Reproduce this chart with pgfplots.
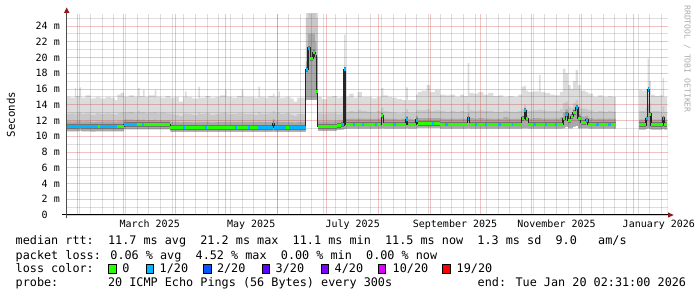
\documentclass[border=0pt]{standalone}
\usepackage{fontspec}
\setmainfont{DejaVu Sans Mono}
\newfontfamily\mono{DejaVu Sans Mono}
\usepackage{pgfplots}
\pgfplotsset{compat=1.18}
\usepackage{pgfplotstable}

\definecolor{smokeA}{HTML}{DCDCDC}
\definecolor{smokeB}{HTML}{C8C8C8}
\definecolor{smokeC}{HTML}{A8A8A8}
\definecolor{smokeD}{HTML}{727272}
\definecolor{gridred}{HTML}{C82828}
\definecolor{gridgray}{HTML}{000000}
\definecolor{arrowred}{HTML}{8E1B1B}
\definecolor{lossA}{HTML}{26FF00}
\definecolor{lossB}{HTML}{00B8FF}
\definecolor{lossC}{HTML}{0059FF}
\definecolor{lossD}{HTML}{5E00FF}
\definecolor{lossE}{HTML}{7E00FF}
\definecolor{lossF}{HTML}{DD00FF}
\definecolor{lossG}{HTML}{FF0000}

\newcommand\lgfont{\mono\fontsize{11.8bp}{14bp}\selectfont}
\newcommand\tkfont{\mono\fontsize{10bp}{12bp}\selectfont}

% d = days since 1 Jan 2025; top/mid/q/lo = smoke band edges (ms); med = median rtt (ms)
\pgfplotstableread{
d top mid q lo med
24.8 15.0 12.8 11.9 10.62 11.2
27.0 14.9 12.9 11.85 10.62 11.2
29.5 16.1 12.7 11.9 10.62 11.2
30.3 15.1 12.9 11.9 10.62 11.2
32.3 16.2 13.0 11.95 10.7 11.3
33.3 14.9 12.8 11.85 10.62 11.2
36.0 15.2 12.9 11.9 10.62 11.2
39.0 14.8 12.7 11.8 10.6 11.2
42.0 15.0 12.9 11.85 10.62 11.2
45.0 14.8 12.8 11.85 10.62 11.2
48.0 15.0 12.9 11.9 10.62 11.2
51.0 14.9 12.8 11.85 10.62 11.2
53.5 14.6 12.7 11.8 10.62 11.2
55.0 15.3 12.9 11.9 10.62 11.2
57.0 15.5 13.0 11.9 10.62 11.2
59.0 15.0 13.0 12.1 10.88 11.45
62.0 15.2 13.1 12.1 10.88 11.45
65.0 15.0 12.9 12.05 10.88 11.45
67.5 16.1 13.2 12.1 10.88 11.45
68.5 15.1 13.0 12.05 10.88 11.45
70.5 15.9 13.1 12.1 10.88 11.45
71.5 15.0 12.9 12.0 10.88 11.45
74.0 15.2 13.0 12.05 10.88 11.45
77.5 15.9 13.1 12.1 10.88 11.45
78.5 15.0 12.9 12.0 10.88 11.45
81.0 14.9 13.0 12.0 10.88 11.45
84.0 15.1 12.9 12.0 10.88 11.45
87.0 14.9 12.8 11.8 10.55 11.12
89.5 15.0 12.7 11.8 10.55 11.12
92.0 14.4 12.6 11.75 10.55 11.12
94.5 15.0 12.8 11.8 10.55 11.12
95.7 15.7 12.9 11.8 10.55 11.12
96.7 15.0 12.8 11.8 10.55 11.12
100.0 14.8 12.7 11.75 10.55 11.12
103.7 16.3 13.0 11.8 10.55 11.12
104.7 14.9 12.8 11.8 10.55 11.12
108.0 15.1 12.9 11.8 10.55 11.12
111.0 14.9 12.7 11.75 10.55 11.12
114.0 15.0 12.8 11.8 10.55 11.12
117.0 15.2 12.9 11.8 10.55 11.12
119.8 15.9 13.0 11.85 10.55 11.12
120.8 15.0 12.8 11.8 10.55 11.12
124.0 14.9 12.8 11.8 10.55 11.12
127.0 15.1 12.9 11.8 10.55 11.12
129.8 15.9 12.9 11.85 10.55 11.12
130.8 15.0 12.8 11.8 10.55 11.12
134.0 15.0 12.8 11.8 10.55 11.12
137.0 14.9 12.7 11.8 10.55 11.12
139.8 16.3 13.1 11.85 10.55 11.15
140.8 15.0 12.8 11.8 10.55 11.15
143.5 14.9 12.8 11.8 10.55 11.15
146.0 15.1 12.9 11.8 10.55 11.15
148.5 15.4 13.2 12.2 10.6 11.6
149.5 15.0 12.9 11.85 10.55 11.15
151.8 15.7 13.0 11.85 10.55 11.15
152.8 14.9 12.8 11.8 10.55 11.15
156.0 15.0 12.9 11.8 10.55 11.15
159.0 14.8 12.7 11.8 10.55 11.15
161.0 14.4 12.6 11.75 10.55 11.15
163.0 14.9 12.8 11.8 10.55 11.15
168.3 26 25 19.5 14.6 18.5
169.6 26 26 23 14.6 21.2
171.0 26 26 23 14.6 19.9
172.6 26 26 23 14.6 20.6
173.8 26 26 22 14.6 20.2
174.6 26 25 20 14.6 15.7
175.5 15.0 12.9 11.9 10.68 11.25
178.0 14.7 12.8 11.85 10.68 11.25
181.0 15.0 12.9 11.9 10.68 11.25
184.0 15.1 12.9 11.9 10.68 11.25
187.0 14.9 12.8 11.95 10.8 11.38
189.5 15.0 12.9 12.0 10.85 11.45
191.3 22.9 15.0 13.2 10.9 18.5
192.3 15.0 13.0 12.2 10.97 11.55
194.5 15.4 13.2 12.25 10.97 11.55
197.0 14.9 13.1 12.2 10.97 11.55
199.5 15.6 13.3 12.25 10.97 11.55
202.0 15.0 13.2 12.2 10.97 11.55
205.0 15.0 13.1 12.2 10.97 11.55
208.0 14.8 13.0 12.2 10.97 11.55
211.0 15.0 13.2 12.25 10.97 11.55
213.8 16.1 13.6 12.9 11.0 12.6
215.0 15.2 13.2 12.25 10.97 11.55
217.5 15.0 13.1 12.2 10.97 11.55
220.0 14.9 13.0 12.2 10.97 11.55
223.0 14.7 12.9 12.15 10.97 11.55
226.0 14.6 13.0 12.2 10.97 11.55
228.6 16.2 13.4 12.6 11.0 12.1
229.6 14.6 13.0 12.2 10.97 11.55
232.0 14.6 13.0 12.15 10.97 11.55
234.6 15.3 13.3 12.6 11.0 12.05
235.6 15.6 13.3 12.3 11.05 11.65
238.0 15.8 13.3 12.3 11.05 11.65
241.0 16.5 13.4 12.3 11.05 11.65
243.0 15.6 13.2 12.3 11.05 11.65
246.0 15.9 13.3 12.3 11.05 11.65
249.0 15.3 13.2 12.25 10.97 11.55
252.0 15.2 13.1 12.2 10.97 11.55
255.0 15.3 13.2 12.25 10.97 11.55
258.0 15.0 13.1 12.2 10.97 11.55
261.0 15.3 13.2 12.25 10.97 11.55
263.5 15.1 13.1 12.2 10.97 11.55
265.6 19.3 14.2 13.0 11.0 12.3
266.6 15.5 13.3 12.3 10.97 11.55
269.0 15.4 13.2 12.25 10.97 11.55
272.0 15.6 13.3 12.3 10.97 11.55
275.0 15.3 13.2 12.25 10.97 11.55
278.0 15.5 13.2 12.25 10.97 11.55
281.0 15.1 13.1 12.2 10.97 11.55
284.0 15.2 13.1 12.2 10.97 11.55
287.0 15.0 13.2 12.4 10.97 11.55
290.0 15.1 13.1 12.2 10.97 11.55
293.0 15.0 13.1 12.2 10.97 11.55
296.0 15.3 13.2 12.25 10.97 11.55
298.0 16.3 13.4 12.6 11.0 12.3
299.6 16.4 14.0 13.4 11.0 13.3
300.6 15.8 13.4 12.6 11.0 12.2
302.0 15.6 13.2 12.25 10.97 11.55
305.0 15.7 13.3 12.3 10.97 11.55
308.5 17.8 13.4 12.3 10.97 11.55
309.5 15.6 13.3 12.25 10.97 11.55
312.0 15.5 13.2 12.25 10.97 11.55
315.0 15.3 13.2 12.25 10.97 11.55
318.0 15.2 13.2 12.25 10.97 11.55
321.0 15.6 13.4 12.4 10.97 11.55
322.8 18.6 14.2 13.0 11.0 12.2
324.3 18.0 14.4 13.4 11.2 12.8
326.0 16.5 13.8 12.8 11.0 12.0
327.5 16.0 13.6 12.8 11.0 12.5
329.0 17.0 14.2 13.4 11.2 13.0
330.5 18.4 14.6 13.9 11.3 13.6
331.8 16.5 13.8 12.8 11.0 12.3
333.5 15.8 13.5 12.5 11.0 11.75
336.5 15.6 13.4 12.6 11.0 12.05
338.0 15.4 13.3 12.3 10.97 11.55
341.0 15.0 13.1 12.2 10.97 11.55
344.0 15.2 13.2 12.25 10.97 11.55
347.0 15.0 13.1 12.2 10.97 11.55
350.0 15.1 13.2 12.25 10.97 11.55
352.5 15.0 13.1 12.2 10.97 11.55
354.7 15.0 13.1 12.2 10.97 11.55
}\maintab

\pgfplotstableread{
d top mid q lo med
368.7 15.9 13.2 12.1 10.85 11.45
370.5 15.8 13.2 12.1 10.85 11.45
372.7 16.0 13.6 12.6 10.9 12.2
373.7 19.9 15.5 14.0 11.0 15.9
374.7 17.0 14.2 13.0 10.9 12.8
375.7 15.3 13.2 12.1 10.85 11.45
378.0 15.1 13.2 12.1 10.85 11.45
381.0 15.2 13.1 12.1 10.85 11.45
382.7 17.4 13.8 12.6 10.9 12.3
383.7 15.0 13.1 12.1 10.85 11.45
385.5 15.0 13.1 12.1 10.85 11.45
}\tailtab

\newcommand\smoke[1]{%
  \addplot[const plot, draw=none, fill=smokeA] table[x=d,y=top]{#1} \closedcycle;
  \addplot[const plot, draw=none, fill=smokeB] table[x=d,y=mid]{#1} \closedcycle;
  \addplot[const plot, draw=none, fill=smokeC] table[x=d,y=q]{#1} \closedcycle;
  \addplot[const plot, draw=none, fill=white] table[x=d,y=lo]{#1} \closedcycle;
}
\newcommand\median[1]{%
  \addplot[jump mark left, draw=smokeD, line width=4.8bp] table[x=d,y=med]{#1};
  \addplot[const plot, draw=black!85, line width=1.4bp] table[x=d,y=med]{#1};
  \addplot[jump mark left, draw=lossA, line width=3bp] table[x=d,y=med]{#1};
}
\pgfplotsset{frame/.style={
  at={(67bp,82bp)}, anchor=south west,
  scale only axis, width=601bp, height=201bp,
  xmin=24.8, xmax=386, ymin=0, ymax=25.524,
  unbounded coords=jump}}

\begin{document}
\begin{tikzpicture}
\path[use as bounding box] (0bp,0bp) rectangle (697bp,297bp);
\begin{axis}[
  frame,
  axis line style={draw=none},
  axis on top,
  xtick={74.5,135.5,196.5,258,319,380.5},
  xticklabels={March 2025,May 2025,July 2025,September 2025,November 2025,January 2026},
  xticklabel style={font=\tkfont, anchor=base, inner sep=0pt, yshift=-12.7bp},
  minor xtick={32,39,...,382},
  extra x ticks={31,59,90,120,151,181,212,243,273,304,334,365},
  extra x tick labels={},
  extra x tick style={grid=major},
  ytick={0,2,...,24},
  yticklabels={0\phantom{~m},2~m,4~m,6~m,8~m,10~m,12~m,14~m,16~m,18~m,20~m,22~m,24~m},
  yticklabel style={font=\tkfont, anchor=east, inner sep=0pt, xshift=-7bp},
  minor ytick={1,3,...,25},
  xmajorgrids=false, ymajorgrids=true, yminorgrids=true, xminorgrids=true,
  major grid style={draw=gridred, draw opacity=0.28, line width=0.9bp},
  minor grid style={draw=gridgray, draw opacity=0.13, line width=0.9bp},
  major tick length=0pt, minor tick length=0pt,
]
\smoke{\maintab}
\smoke{\tailtab}
\end{axis}
\begin{axis}[frame, hide axis]
\median{\maintab}
\median{\tailtab}
% loss 1/20 segments
\addplot[draw=lossB, line width=3bp] coordinates {
 (24.8,11.2) (32.3,11.2) (32.3,nan)
 (32.3,11.3) (33.3,11.3) (33.3,nan)
 (33.3,11.2) (43.5,11.2) (43.5,nan)
 (44.8,11.2) (55,11.2) (55,nan)
 (59,11.45) (67,11.45) (67,nan)
 (70,11.45) (71.2,11.45) (71.2,nan)
 (94.5,11.12) (95.7,11.12) (95.7,nan)
 (107.5,11.12) (108.7,11.12) (108.7,nan)
 (125.5,11.12) (126.7,11.12) (126.7,nan)
 (133.5,11.12) (134.7,11.12) (134.7,nan)
 (139.8,11.15) (148.5,11.15) (148.5,nan)
 (148.5,11.6) (149.5,11.6) (149.5,nan)
 (149.5,11.15) (156.5,11.15) (156.5,nan)
 (158,11.15) (168.3,11.15) (168.3,nan)
 (168.3,18.5) (169.6,18.5) (169.6,nan)
 (169.6,21.2) (171.0,21.2) (171.0,nan)
 (189.5,11.45) (191.3,11.45) (191.3,nan)
 (191.3,18.5) (192.3,18.5) (192.3,nan)
 (196.5,11.55) (198,11.55) (198,nan)
 (202,11.55) (203.5,11.55) (203.5,nan)
 (210,11.55) (211,11.55) (211,nan)
 (221,11.55) (222.5,11.55) (222.5,nan)
 (228.6,12.1) (229.6,12.1) (229.6,nan)
 (234.6,12.05) (235.6,12.05) (235.6,nan)
 (244,11.65) (245.5,11.65) (245.5,nan)
 (252,11.55) (253.5,11.55) (253.5,nan)
 (265.6,12.3) (266.6,12.3) (266.6,nan)
 (270,11.55) (271.5,11.55) (271.5,nan)
 (276,11.55) (277.5,11.55) (277.5,nan)
 (284,11.55) (285.5,11.55) (285.5,nan)
 (292,11.55) (293,11.55) (293,nan)
 (299.6,13.3) (300.6,13.3) (300.6,nan)
 (305,11.55) (306.5,11.55) (306.5,nan)
 (312,11.55) (313.5,11.55) (313.5,nan)
 (318,11.55) (319.5,11.55) (319.5,nan)
 (324.3,12.8) (326,12.8) (326,nan)
 (330.5,13.6) (331.8,13.6) (331.8,nan)
 (336.5,12.05) (338,12.05) (338,nan)
 (343,11.55) (344.5,11.55) (344.5,nan)
 (350,11.55) (351.5,11.55) (351.5,nan)
 (372.7,12.2) (373.7,12.2) (373.7,nan)
 (373.7,15.9) (374.7,15.9) (374.7,nan)
 (382.7,12.3) (383.7,12.3)
};
\end{axis}

% axis lines with arrows
\draw[black, line width=1bp] (62bp,82bp) -- (668.5bp,82bp);
\fill[arrowred] (668bp,79.3bp) -- (673.6bp,82bp) -- (668bp,84.7bp) -- cycle;
\draw[black!70, line width=1bp] (66.7bp,78.7bp) -- (66.7bp,284.5bp);
\fill[arrowred] (64bp,284bp) -- (66.7bp,289.5bp) -- (69.4bp,284bp) -- cycle;

% axis label and watermark
\node[rotate=90, inner sep=0pt, font=\mono\fontsize{10.7bp}{12bp}\selectfont] at (10.8bp,182.5bp) {Seconds};
\node[rotate=-90, inner sep=0pt, text=black!33, font=\mono\fontsize{8.1bp}{10bp}\selectfont] at (687.3bp,238bp) {RRDTOOL / TOBI OETIKER};

% legend lines
\node[anchor=base west, inner sep=0pt, font=\lgfont] at (15.5bp,52bp) {median rtt:~~11.7 ms avg~~21.2 ms max~~11.1 ms min~~11.5 ms now~~1.3 ms sd~~9.0~~~am/s};
\node[anchor=base west, inner sep=0pt, font=\lgfont] at (15.5bp,38bp) {packet loss: 0.06 \% avg~~4.52 \% max~~0.00 \% min~~0.00 \% now};
\node[anchor=base west, inner sep=0pt, font=\lgfont] at (15.5bp,24.3bp) {loss color:};
\node[anchor=base west, inner sep=0pt, font=\lgfont] at (15.5bp,10.3bp) {probe:~~~~~~~20 ICMP Echo Pings (56 Bytes) every 300s};
\node[anchor=base west, inner sep=0pt, font=\lgfont] at (477.5bp,10.3bp) {end: Tue Jan 20 02:31:00 2026};

% loss colour boxes
\filldraw[fill=lossA, draw=black, line width=0.9bp] (108.8bp,24bp) rectangle (116.4bp,32.2bp);
\node[anchor=base west, inner sep=0pt, font=\lgfont] at (122.2bp,24.3bp) {0};
\filldraw[fill=lossB, draw=black, line width=0.9bp] (146.2bp,24bp) rectangle (153.8bp,32.2bp);
\node[anchor=base west, inner sep=0pt, font=\lgfont] at (159.5bp,24.3bp) {1/20};
\filldraw[fill=lossC, draw=black, line width=0.9bp] (203.5bp,24bp) rectangle (211.1bp,32.2bp);
\node[anchor=base west, inner sep=0pt, font=\lgfont] at (216.8bp,24.3bp) {2/20};
\filldraw[fill=lossD, draw=black, line width=0.9bp] (262.2bp,24bp) rectangle (269.8bp,32.2bp);
\node[anchor=base west, inner sep=0pt, font=\lgfont] at (275.5bp,24.3bp) {3/20};
\filldraw[fill=lossE, draw=black, line width=0.9bp] (321.2bp,24bp) rectangle (328.8bp,32.2bp);
\node[anchor=base west, inner sep=0pt, font=\lgfont] at (334.5bp,24.3bp) {4/20};
\filldraw[fill=lossF, draw=black, line width=0.9bp] (378.2bp,24bp) rectangle (385.8bp,32.2bp);
\node[anchor=base west, inner sep=0pt, font=\lgfont] at (392.5bp,24.3bp) {10/20};
\filldraw[fill=lossG, draw=black, line width=0.9bp] (442.8bp,24bp) rectangle (450.4bp,32.2bp);
\node[anchor=base west, inner sep=0pt, font=\lgfont] at (456.5bp,24.3bp) {19/20};
\end{tikzpicture}
\end{document}
